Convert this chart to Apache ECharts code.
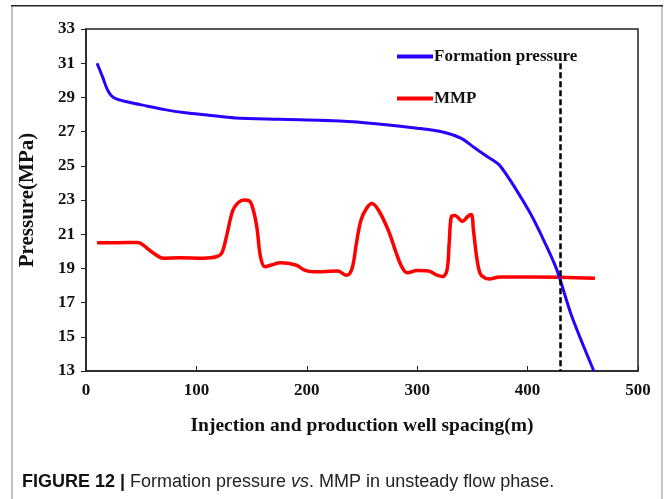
<!DOCTYPE html>
<html>
<head>
<meta charset="utf-8">
<script src="https://cdn.jsdelivr.net/npm/echarts@6/dist/echarts.min.js"></script>
<style>
  html, body { margin: 0; padding: 0; background: #fff; }
  #chart { width: 664px; height: 499px; }
</style>
</head>
<body>
<div id="chart"></div>
<script>
// spacing (m) / pressure (MPa)
var formationPressure = [
  [10, 31.0], [15, 30.2], [19, 29.5], [23, 29.1], [28, 28.9], [40, 28.7],
  [55, 28.5], [70, 28.3], [90, 28.1], [110, 27.97], [135, 27.8], [175, 27.72],
  [230, 27.62], [265, 27.45], [300, 27.2], [325, 26.95], [340, 26.6],
  [352, 26.05], [362, 25.6], [375, 25.0], [400, 22.5], [412, 21.0],
  [426, 19.0], [440, 16.2], [460, 13.0]
];
var mmp = [
  [10, 20.5], [25, 20.5], [47, 20.52], [52, 20.35], [60, 19.95], [70, 19.6],
  [85, 19.62], [106, 19.6], [118, 19.68], [123, 19.9], [127, 20.8], [133, 22.4],
  [138, 22.85], [143, 23.0], [148, 22.95], [152, 22.3], [155, 21.3], [158, 19.7],
  [162, 19.1], [168, 19.2], [176, 19.33], [190, 19.2], [198, 18.9], [206, 18.8],
  [228, 18.85], [236, 18.6], [241, 19.0], [245, 20.5], [249, 21.8], [254, 22.5],
  [259, 22.8], [265, 22.4], [274, 21.2], [281, 19.9], [286, 19.1], [291, 18.75],
  [300, 18.87], [310, 18.85], [318, 18.6], [323, 18.52], [327, 18.9], [329, 20.5],
  [331, 22.05], [334, 22.1], [341, 21.75], [346, 22.05], [349, 22.15], [351, 21.2],
  [354, 19.6], [357, 18.7], [361, 18.45], [365, 18.38], [375, 18.5], [430, 18.48],
  [461, 18.42]
];
var crossSpacing = 430;
var crossRange = [31, 13];

var serif = '"Liberation Serif", "DejaVu Serif", serif';
var sans = '"Liberation Sans", Arial, sans-serif';
var myChart = echarts.init(document.getElementById('chart'), null, { renderer: 'canvas' });

myChart.setOption({
  animation: false,
  backgroundColor: '#fff',
  grid: {
    left: 86, right: 26, top: 29, bottom: 128,
    show: true, borderColor: '#222', borderWidth: 1.5
  },
  legend: {
    orient: 'vertical',
    left: 392, top: 43,
    itemGap: 25,
    itemWidth: 36, itemHeight: 4,
    icon: 'rect',
    textStyle: { fontFamily: serif, fontWeight: 'bold', fontSize: 17, color: '#111', padding: [0, 0, 0, -4] },
    data: ['Formation pressure', 'MMP']
  },
  xAxis: {
    type: 'value', min: 0, max: 500, interval: 100,
    name: 'Injection and production well spacing(m)',
    nameLocation: 'middle', nameGap: 45,
    nameTextStyle: { fontFamily: serif, fontWeight: 'bold', fontSize: 19.5, color: '#111' },
    axisLine: { lineStyle: { color: '#222', width: 1.5 } },
    axisTick: { inside: true, length: 5, lineStyle: { color: '#222' } },
    axisLabel: { fontFamily: serif, fontWeight: 'bold', fontSize: 17, color: '#111', margin: 11 },
    splitLine: { show: false }
  },
  yAxis: {
    type: 'value', min: 13, max: 33, interval: 2,
    name: 'Pressure(MPa)',
    nameLocation: 'middle', nameGap: 48, nameRotate: 90,
    nameTextStyle: { fontFamily: serif, fontWeight: 'bold', fontSize: 21, color: '#111' },
    axisLine: { lineStyle: { color: '#222', width: 1.5 } },
    axisTick: { length: 5, lineStyle: { color: '#222' } },
    axisLabel: { fontFamily: serif, fontWeight: 'bold', fontSize: 17, color: '#111', margin: 11 },
    splitLine: { show: false }
  },
  series: [
    {
      name: 'Formation pressure', type: 'line', data: formationPressure,
      smooth: 0.3, showSymbol: false,
      lineStyle: { color: '#2a00ff', width: 3 },
      itemStyle: { color: '#2a00ff' },
      markLine: {
        silent: true, symbol: 'none', label: { show: false },
        lineStyle: { color: '#000', type: [6, 3], width: 2.5 },
        data: [[{ coord: [crossSpacing, crossRange[0]] }, { coord: [crossSpacing, crossRange[1]] }]]
      },
      z: 2
    },
    {
      name: 'MMP', type: 'line', data: mmp,
      smooth: 0.35, showSymbol: false,
      lineStyle: { color: '#ff0000', width: 3.5 },
      itemStyle: { color: '#ff0000' },
      z: 1
    }
  ],
  graphic: [
    { type: 'rect', shape: { x: 11, y: 6, width: 2, height: 493 }, style: { fill: '#c4c4c4' } },
    { type: 'rect', shape: { x: 661, y: 6, width: 2, height: 493 }, style: { fill: '#c4c4c4' } },
    { type: 'rect', shape: { x: 11, y: 5, width: 652, height: 1.5 }, style: { fill: '#222' } },
    {
      type: 'text', left: 22, top: 473,
      style: {
        text: '{b|FIGURE 12 |} Formation pressure {i|vs}. MMP in unsteady flow phase.',
        fontFamily: sans, fontSize: 18, fill: '#222',
        rich: {
          b: { fontFamily: sans, fontWeight: 'bold', fontSize: 18, fill: '#111' },
          i: { fontFamily: sans, fontStyle: 'italic', fontSize: 18, fill: '#222' }
        }
      }
    }
  ]
});
</script>
</body>
</html>
